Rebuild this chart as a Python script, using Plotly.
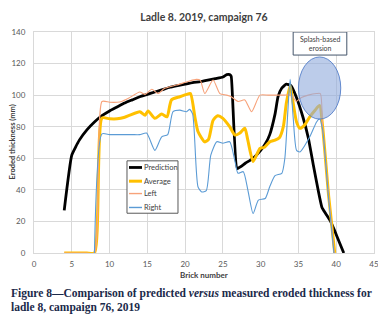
import plotly.graph_objects as go

# ---------------- data ----------------
pred_x = [4, 5, 6, 7, 8, 9, 10, 11, 12, 13, 14, 15, 16, 17, 18, 19, 20, 21, 22, 23, 24, 25,
          25.5, 25.9, 26.1, 26.9, 28, 29, 30, 30.6, 31.2, 31.9, 32.3, 32.8, 33.4, 34, 34.7,
          35.6, 36.3, 37, 37.6, 38.1, 38.6, 39.2, 39.8, 40.4, 41]
pred_y = [27, 62, 71.5, 78, 83, 87, 90, 92.5, 95, 97, 99, 100.5, 102, 103.5, 105, 106, 107, 108,
          108.5, 109.5, 110.5, 111.5, 113, 113, 112, 53.5, 57, 60, 65, 69, 75, 88, 99, 104.5,
          107, 106, 99, 86, 73, 55, 40, 29, 25, 20.5, 14, 7, 0]

avg_x = [4, 5, 6, 7, 8, 9, 10, 11, 12, 12.7, 14, 14.7, 15.1, 16, 16.9, 17.6, 18.2, 19.3, 20.2,
         20.7, 21.3, 21.7, 22.6, 23.1, 23.7, 24.3, 25, 25.9, 26.6, 27.2, 27.9, 28.3, 29, 29.9,
         30.5, 31.2, 31.9, 32.5, 33, 33.4, 33.9, 34.3, 34.75, 35.2, 35.8, 36.5, 37.2, 37.8,
         38.2, 39, 39.8]
avg_y = [0, 0, 0, 0, 0, 85.5, 85, 85, 86, 87.3, 89.5, 87.3, 90, 85.3, 88, 86.3, 97, 99, 100.5,
         101, 86, 77, 70.4, 72, 84, 87, 85.3, 80, 74.7, 75.8, 79, 71.5, 58, 66.2,
         67, 70.4, 71.5, 73.2, 80, 95, 106, 95, 83, 79, 81, 86.3, 90.5, 93.5,
         80, 36, 0]

left_x = [4, 5, 6, 7, 8, 9, 10, 11, 11.6, 12.5, 14, 14.7, 15.6, 16.4, 17.3, 18.9, 20.6, 21.5,
          22, 22.6, 23.7, 24.6, 25.5, 26.1, 27, 27.9, 28.8, 29.9, 31, 32, 33, 34.1, 34.7, 35.4,
          36.3, 37.4, 37.9, 38.2, 39, 39.75]
left_y = [0, 0, 0, 0, 0, 96, 95.5, 95.5, 96, 98, 102, 100.5, 103.7, 101, 104.3, 106.4, 109, 110,
          109.5, 101, 109.6, 101, 100, 99, 96, 97, 89.5, 100, 100, 100, 100, 100, 96, 98.5,
          100, 101, 101, 80, 36, 0]

right_x = [8, 9, 10, 11, 12, 13, 14, 14.9, 16, 16.9, 17.7, 18.4, 19.3, 20.2, 20.6, 21.0, 21.7,
           22.2, 22.8, 23.4, 24.2, 25, 25.9, 26.6, 27, 27.7, 28.3, 29, 29.7, 30.6, 31.2, 31.9,
           32.8, 33.2, 33.9, 34.3, 34.75, 35.2, 36.5, 37.4, 37.8, 38.2, 39, 39.7]
right_y = [0, 75.5, 75, 75, 75, 75, 75, 76, 65, 73.6, 75, 89.5, 90.5, 89.5, 91, 88, 42,
           38.7, 39.5, 62, 70.5, 69.5, 70.5, 58, 50.5, 51.5, 40, 25, 33.5, 34.5, 42, 49,
           50.5, 60, 110, 86, 65, 64, 73.6, 83, 85, 78, 34, 0]

x_ticks = [0, 5, 10, 15, 20, 25, 30, 35, 40, 45]
y_ticks = [0, 20, 40, 60, 80, 100, 120, 140]

series_names = ["Prediction", "Average", "Left", "Right"]
series_colors = ["#000000", "#FFC000", "#F7A27A", "#5B9BD5"]
series_widths = [2.8, 3, 1.1, 1.1]

FONT = "Lato"
GRID = "#D9D9D9"
TXT = "#404040"

fig = go.Figure()
xs = [pred_x, avg_x, left_x, right_x]
ys = [pred_y, avg_y, left_y, right_y]
smooth = [0.4, 0.6, 0.6, 0.6]
for name, col, w, x, y, s in zip(series_names, series_colors, series_widths, xs, ys, smooth):
    fig.add_trace(go.Scatter(x=x, y=y, name=name, mode="lines", showlegend=False,
                             line=dict(color=col, width=w, shape="spline", smoothing=s)))

# ---- legend box (drawn in paper coordinates) ----
fig.add_shape(type="rect", xref="paper", yref="paper", x0=0.2735, x1=0.4235, y0=0.18, y1=0.417,
              fillcolor="white", line=dict(color="#595959", width=1), layer="above")
row_y = [0.387, 0.325, 0.269, 0.206]
for name, col, w, ry in zip(series_names, series_colors, series_widths, row_y):
    fig.add_shape(type="line", xref="paper", yref="paper", x0=0.2794, x1=0.3176, y0=ry, y1=ry,
                  line=dict(color=col, width=max(w, 1.4)), layer="above")
    fig.add_annotation(x=0.3176, y=ry, xref="paper", yref="paper", xanchor="left", yanchor="middle",
                       text=name, showarrow=False, font=dict(family=FONT, size=7.5, color=TXT))

# ---- Splash-based erosion ellipse and label box ----
fig.add_shape(type="circle", xref="x", yref="y", x0=35.0, x1=40.6, y0=84.8, y1=124.2,
              fillcolor="rgba(143,170,220,0.6)", line=dict(color="#4472C4", width=0.8), layer="above")
fig.add_shape(type="rect", xref="x", yref="y", x0=34.3, x1=41.4, y0=125.4, y1=140,
              fillcolor="white", line=dict(color="#44546A", width=1), layer="above")
fig.add_annotation(x=37.85, y=132.7, xref="x", yref="y", text="Splash-based<br>erosion",
                   showarrow=False, font=dict(family=FONT, size=7, color=TXT))

# ---- axis titles ----
fig.add_annotation(x=-0.0647, y=0.5, xref="paper", yref="paper", xanchor="center", yanchor="middle",
                   text="<b>Eroded thickness (mm)</b>", textangle=-90, showarrow=False,
                   font=dict(family=FONT, size=7.5, color=TXT))
fig.add_annotation(x=0.5, y=-0.101, xref="paper", yref="paper", xanchor="center", yanchor="middle",
                   text="<b>Brick number</b>", showarrow=False,
                   font=dict(family=FONT, size=8, color=TXT))

# ---- figure caption ----
CAP = "#1B2A4A"
fig.add_annotation(x=-0.075, y=-0.1826, xref="paper", yref="paper", xanchor="left", yanchor="middle",
                   text="<b>Figure 8—Comparison of predicted <i>versus</i> measured eroded thickness for</b>",
                   showarrow=False, font=dict(family="Liberation Serif", size=11.5, color=CAP))
fig.add_annotation(x=-0.075, y=-0.2447, xref="paper", yref="paper", xanchor="left", yanchor="middle",
                   text="<b>ladle 8, campaign 76, 2019</b>",
                   showarrow=False, font=dict(family="Liberation Serif", size=11.5, color=CAP))

# The page body has an 8px margin, so the figure is sized/positioned to compensate.
fig.update_layout(
    width=378, height=314,
    margin=dict(l=26, r=12, t=24, b=69.3),
    paper_bgcolor="white", plot_bgcolor="white",
    title=dict(text="<b>Ladle 8. 2019, campaign 76</b>", x=0.5, xref="paper", xanchor="center",
               y=1 - 9 / 314, yref="container", yanchor="middle",
               font=dict(family=FONT, size=10.5, color=TXT)),
    showlegend=False,
    xaxis=dict(range=[0, 45], tickvals=x_ticks, showgrid=True, gridcolor=GRID, gridwidth=1,
               zeroline=False, showline=True, mirror=True, linecolor=GRID, ticks="",
               ticklabelstandoff=3,
               tickfont=dict(family=FONT, size=8, color="#595959"), automargin=False),
    yaxis=dict(range=[0, 140], tickvals=y_ticks, showgrid=True, gridcolor=GRID, gridwidth=1,
               zeroline=False, showline=True, mirror=True, linecolor=GRID, ticks="",
               ticklabelstandoff=6,
               tickfont=dict(family=FONT, size=8, color="#595959"), automargin=False),
)

fig.write_html("out.html")
